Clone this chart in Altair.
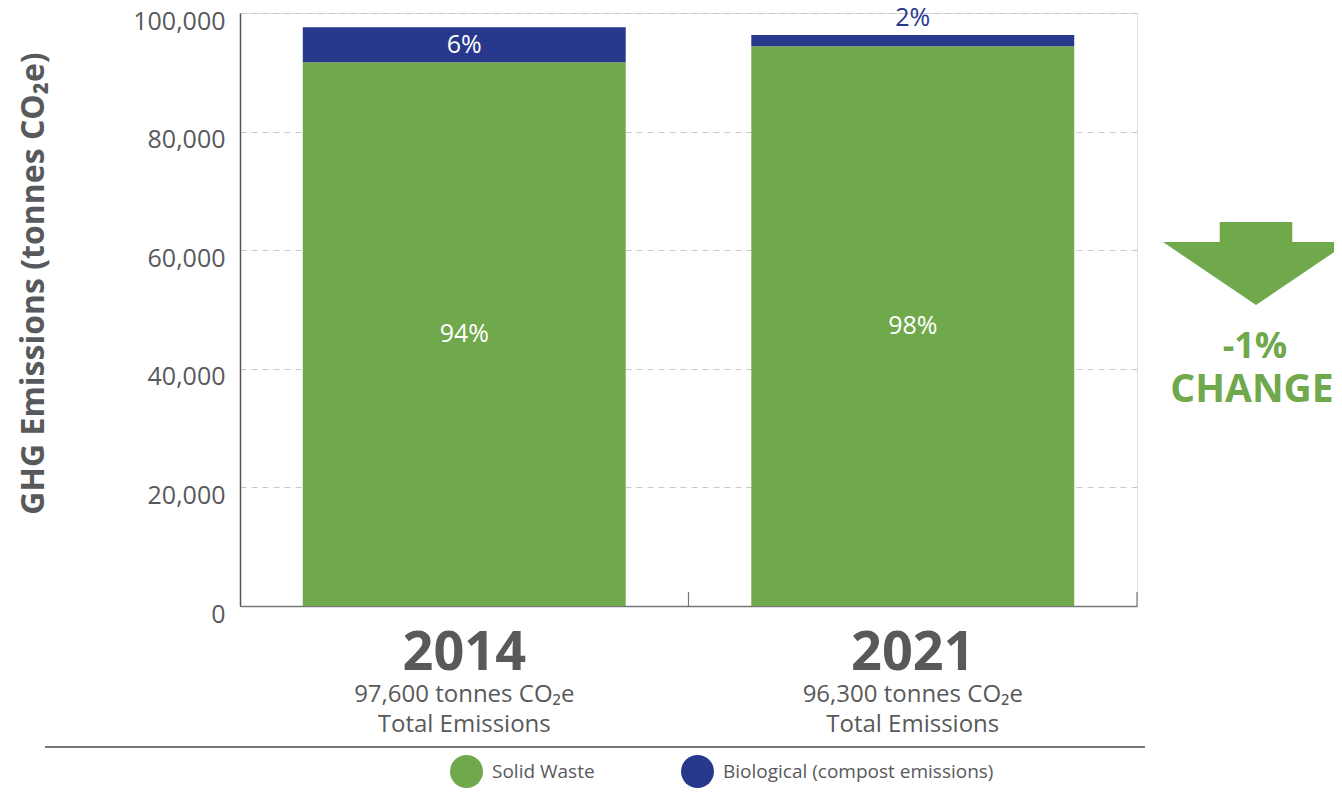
import altair as alt
import pandas as pd

FONT = "Open Sans"
GRAY = "#58595B"

years = ["2014", "2021"]
categories = ["Solid Waste", "Biological (compost emissions)"]
colors = ["#70A84C", "#28388C"]
solid_waste = [91700, 94400]
biological = [5900, 1900]
solid_pct = ["94%", "98%"]
bio_pct = ["6%", "2%"]
bio_label_inside = [True, False]
totals_text = ["97,600 tonnes CO₂e", "96,300 tonnes CO₂e"]
total_label = ["Total Emissions", "Total Emissions"]
y_ticks = [0, 20000, 40000, 60000, 80000, 100000]
change_pct = "-1%"
change_word = "CHANGE"

rows = []
for i, yr in enumerate(years):
    rows.append({"year": yr, "category": categories[0], "value": solid_waste[i], "ord": 0})
    rows.append({"year": yr, "category": categories[1], "value": biological[i], "ord": 1})
df = pd.DataFrame(rows)

inside_rows, outside_rows = [], []
for i, yr in enumerate(years):
    inside_rows.append({"year": yr, "ypos": solid_waste[i] / 2, "label": solid_pct[i]})
    if bio_label_inside[i]:
        inside_rows.append({"year": yr, "ypos": solid_waste[i] + biological[i] / 2, "label": bio_pct[i]})
    else:
        outside_rows.append({"year": yr, "ypos": solid_waste[i] + biological[i], "label": bio_pct[i]})
df_in = pd.DataFrame(inside_rows)
df_out = pd.DataFrame(outside_rows)
df_years = pd.DataFrame({"year": years, "total": totals_text, "tl": total_label})

W, H = 897, 593
PAD_IN, PAD_OUT = 0.28, 0.14
xscale = alt.Scale(domain=years, paddingInner=PAD_IN, paddingOuter=PAD_OUT)
xenc = alt.X("year:N", scale=xscale,
             axis=alt.Axis(labels=False, ticks=False, title=None, domainColor="#777777", domainWidth=1.5))

bars = alt.Chart(df).mark_bar().encode(
    x=xenc,
    y=alt.Y("value:Q", stack="zero", scale=alt.Scale(domain=[0, 100000], nice=False),
            axis=alt.Axis(values=y_ticks, format=",d", grid=True, gridDash=[6, 5], gridColor="#c8c8c8",
                          gridWidth=1, ticks=False, domain=True, domainColor="#555555", domainWidth=1.5,
                          labelFontSize=25, labelFont=FONT, labelColor=GRAY, labelPadding=15,
                          labelOffset=8, labelBaseline="middle",
                          title="GHG Emissions (tonnes CO₂e)", titleFont=FONT, titleFontSize=32,
                          titleFontWeight="bold", titleColor=GRAY, titleX=-190, titleY=270)),
    color=alt.Color("category:N", scale=alt.Scale(domain=categories, range=colors),
                    legend=alt.Legend(orient="none", legendX=210, legendY=742, direction="horizontal",
                                      title=None, symbolType="circle", symbolSize=1089, symbolStrokeWidth=0,
                                      symbolOpacity=1, labelFont=FONT, labelFontSize=19, labelColor=GRAY,
                                      labelOffset=9, labelLimit=0, columnPadding=86, padding=0)),
    order=alt.Order("ord:Q"),
)

inside = alt.Chart(df_in).mark_text(color="white", fontSize=25, font=FONT).encode(
    x=alt.X("year:N"), y=alt.Y("ypos:Q"), text="label:N")
outside = alt.Chart(df_out).mark_text(color=colors[1], fontSize=25, font=FONT, baseline="bottom", dy=-4).encode(
    x=alt.X("year:N"), y=alt.Y("ypos:Q"), text="label:N")

step = W / (len(years) - PAD_IN + 2 * PAD_OUT)
ticks = alt.Chart(df_years).mark_rule(color="#777777", strokeWidth=1.2, xOffset=PAD_IN * step / 2).encode(
    x=alt.X("year:N", bandPosition=1), y=alt.value(579), y2=alt.value(593))

year_txt = alt.Chart(df_years).mark_text(font=FONT, fontSize=54, fontWeight="bold", color=GRAY,
                                         baseline="alphabetic").encode(
    x=alt.X("year:N"), y=alt.value(657), text="year:N")
tot_txt = alt.Chart(df_years).mark_text(font=FONT, fontSize=24, color=GRAY, baseline="alphabetic").encode(
    x=alt.X("year:N"), y=alt.value(689), text="total:N")
tl_txt = alt.Chart(df_years).mark_text(font=FONT, fontSize=24, color=GRAY, baseline="alphabetic").encode(
    x=alt.X("year:N"), y=alt.value(719), text="tl:N")

one = pd.DataFrame({"a": [0]})
hline = alt.Chart(one).mark_rule(color="#777777", strokeWidth=2).encode(
    x=alt.value(-195), x2=alt.value(905), y=alt.value(734))

arrow_path = "M-0.39,-0.446 L0.39,-0.446 L0.39,-0.231 L1,-0.231 L0,0.446 L-1,-0.231 L-0.39,-0.231 Z"
arrow = alt.Chart(one).mark_point(shape=arrow_path, size=34596, filled=True, color=colors[0],
                                  opacity=1, strokeWidth=0).encode(
    x=alt.value(1016), y=alt.value(250.5))
pct_txt = alt.Chart(one).mark_text(text=change_pct, font=FONT, fontSize=36, fontWeight="bold",
                                   color=colors[0], baseline="alphabetic").encode(
    x=alt.value(1015), y=alt.value(345))
chg_txt = alt.Chart(one).mark_text(text=change_word, font=FONT, fontSize=39, fontWeight="bold",
                                   color=colors[0], baseline="alphabetic").encode(
    x=alt.value(1012), y=alt.value(389))

chart = alt.layer(bars, inside, outside, ticks, year_txt, tot_txt, tl_txt, hline, arrow, pct_txt, chg_txt).properties(
    width=W, height=H,
    padding={"left": 232, "top": 5, "right": 197, "bottom": 182},
    autosize=alt.AutoSizeParams(type="none"),
).configure_view(stroke=None).configure(font=FONT)

chart.save("out.html", embed_options={"renderer": "svg", "actions": False})
